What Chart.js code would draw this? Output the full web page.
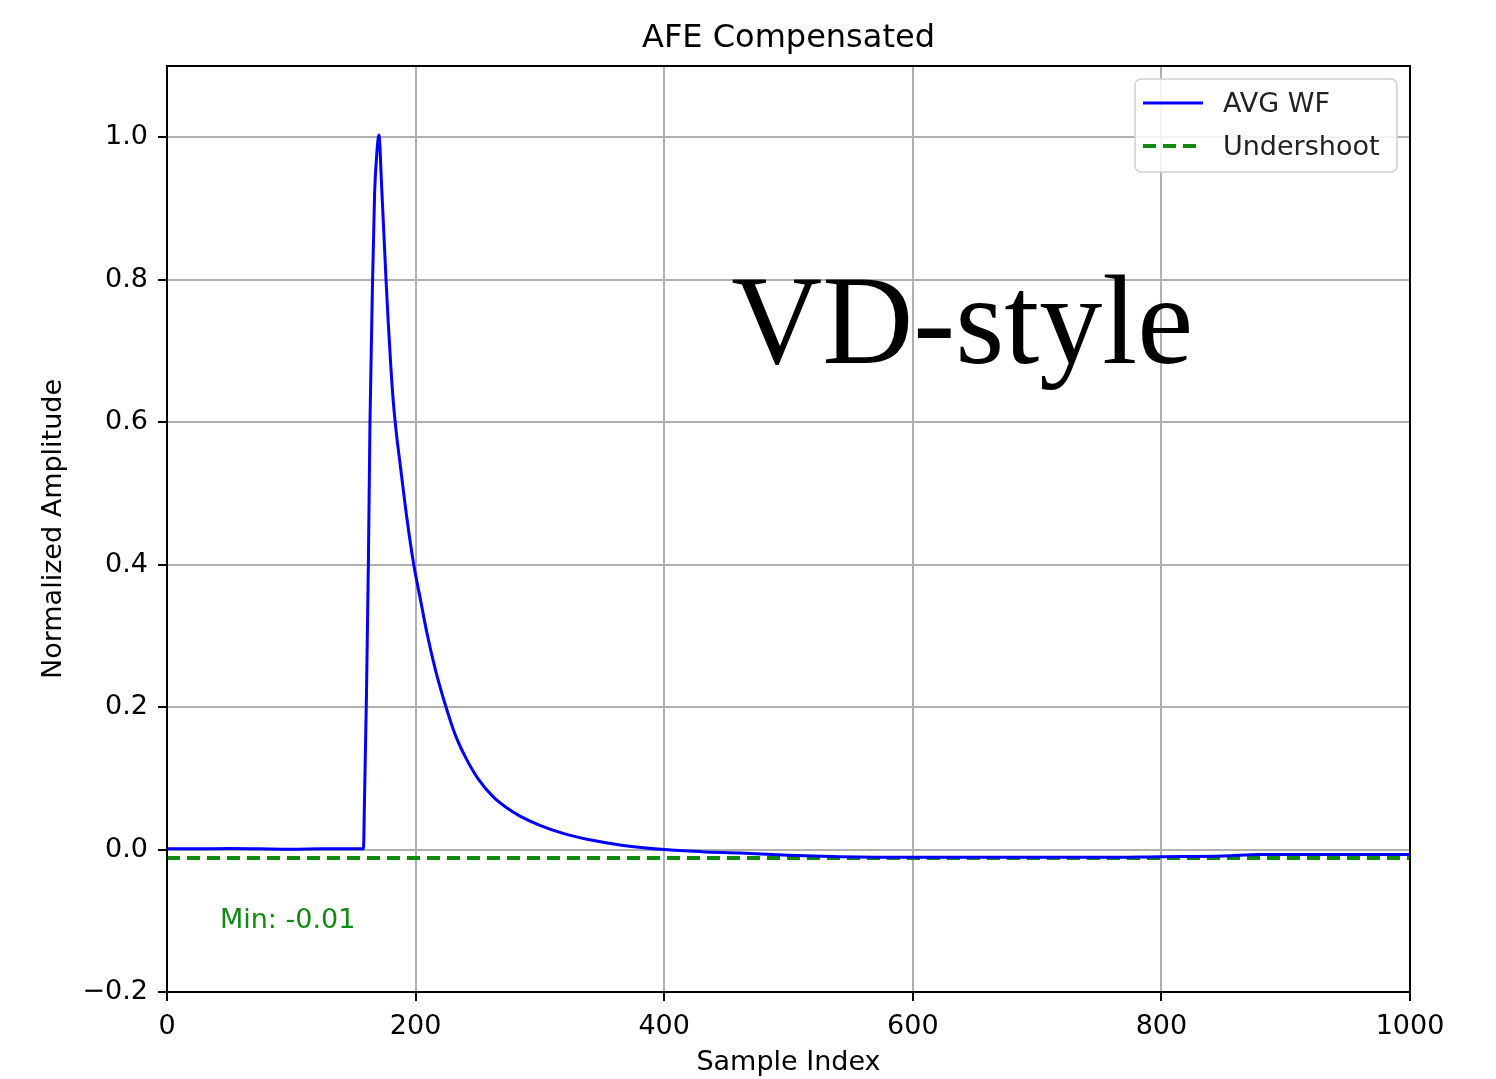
<!DOCTYPE html>
<html>
<head>
<meta charset="utf-8">
<script src="https://cdn.jsdelivr.net/npm/chart.js@4/dist/chart.umd.min.js"></script>
<style>
  body { margin: 0; background: #fff; }
  #wrap { width: 1496px; height: 1079px; position: relative; }
</style>
</head>
<body>
<div id="wrap"><canvas id="afeChart"></canvas></div>
<script>
// sample index / normalized amplitude
const sampleIdx = [0, 25, 50, 75, 100, 125, 150, 158, 159, 160.5, 162, 163.3, 165.4, 167, 168.7, 170.5, 172.7, 176.2, 178, 180, 182, 184.5, 188, 193, 198.5, 204, 209, 216, 223.6, 231.7, 240, 250, 262.5, 273, 284, 300, 320, 338, 367, 400, 430, 461, 500, 541, 600, 650, 700, 750, 800, 850, 880, 920, 960, 1000];
const avgWf = [0.001, 0.001, 0.0015, 0.001, 0.0005, 0.001, 0.001, 0.001, 0.08, 0.22, 0.4, 0.6, 0.8, 0.92, 0.975, 1.003, 0.93, 0.8, 0.74, 0.68, 0.63, 0.585, 0.535, 0.465, 0.4, 0.35, 0.305, 0.252, 0.205, 0.162, 0.13, 0.1, 0.074, 0.059, 0.047, 0.034, 0.022, 0.0145, 0.0058, 0.0, -0.003, -0.005, -0.008, -0.010, -0.011, -0.011, -0.011, -0.011, -0.010, -0.009, -0.007, -0.007, -0.007, -0.007];

const undershootX = [0, 1000];
const undershootY = [-0.012, -0.012];

const xTicks = [0, 200, 400, 600, 800, 1000];
const xTickLabels = ['0', '200', '400', '600', '800', '1000'];
const yTicks = [-0.2, 0.0, 0.2, 0.4, 0.6, 0.8, 1.0];
const yTickLabels = ['\u22120.2', '0.0', '0.2', '0.4', '0.6', '0.8', '1.0'];

const FONT = 'DejaVu Sans';

const extras = {
    id: 'extras',
    afterDraw(chart) {
        const ctx = chart.ctx;
        const area = chart.chartArea;
        const xs = chart.scales.x, ys = chart.scales.y;
        ctx.save();

        // frame
        ctx.strokeStyle = '#000';
        ctx.lineWidth = 2;
        ctx.strokeRect(area.left, area.top, area.right - area.left, area.bottom - area.top);

        // title
        ctx.fillStyle = '#000';
        ctx.font = `32px "${FONT}"`;
        ctx.textAlign = 'center';
        ctx.textBaseline = 'middle';
        ctx.fillText('AFE Compensated', (area.left + area.right) / 2, 39);

        // min annotation
        ctx.fillStyle = '#128a12';
        ctx.font = `27px "${FONT}"`;
        ctx.textAlign = 'left';
        ctx.fillText('Min: -0.01', xs.getPixelForValue(42.6), ys.getPixelForValue(-0.1));

        // big overlay text
        ctx.fillStyle = '#000';
        ctx.font = '126px "Liberation Serif"';
        ctx.textBaseline = 'alphabetic';
        ctx.fillText('VD-style', xs.getPixelForValue(454), ys.getPixelForValue(0.683));

        // legend
        const bx = area.right - 275, by = area.top + 13, bw = 262, bh = 93;
        ctx.beginPath();
        ctx.roundRect(bx, by, bw, bh, 6);
        ctx.fillStyle = 'rgba(255,255,255,0.85)';
        ctx.fill();
        ctx.strokeStyle = '#d0d0d0';
        ctx.lineWidth = 1.5;
        ctx.stroke();
        chart.data.datasets.forEach((ds, i) => {
            const ly = by + 24 + i * 43;
            ctx.beginPath();
            ctx.setLineDash(ds.borderDash || []);
            ctx.strokeStyle = ds.borderColor;
            ctx.lineWidth = ds.borderWidth;
            ctx.moveTo(bx + 8, ly);
            ctx.lineTo(bx + 68, ly);
            ctx.stroke();
            ctx.setLineDash([]);
            ctx.fillStyle = '#222';
            ctx.font = `27px "${FONT}"`;
            ctx.textBaseline = 'middle';
            ctx.fillText(ds.label, bx + 88, ly + 2);
        });
        ctx.restore();
    }
};

new Chart(document.getElementById('afeChart'), {
    type: 'line',
    data: {
        datasets: [{
            label: 'AVG WF',
            data: sampleIdx.map((x, i) => ({ x: x, y: avgWf[i] })),
            borderColor: '#0000ff',
            borderWidth: 3,
            pointRadius: 0,
            cubicInterpolationMode: 'monotone'
        }, {
            label: 'Undershoot',
            data: undershootX.map((x, i) => ({ x: x, y: undershootY[i] })),
            borderColor: '#128a12',
            borderWidth: 4,
            borderDash: [13, 7],
            pointRadius: 0
        }]
    },
    options: {
        responsive: true,
        maintainAspectRatio: false,
        animation: false,
        layout: { padding: { top: 66, right: 86, left: 0, bottom: 0 } },
        plugins: {
            legend: { display: false },
            tooltip: { enabled: false }
        },
        scales: {
            x: {
                type: 'linear',
                min: 0,
                max: 1000,
                afterBuildTicks: s => { s.ticks = xTicks.map(v => ({ value: v })); },
                afterFit: s => { s.height = 87; },
                grid: { color: '#b0b0b0', lineWidth: 2, tickLength: 9, tickColor: '#000', tickWidth: 2 },
                border: { display: false },
                ticks: {
                    color: '#000',
                    font: { family: FONT, size: 27 },
                    padding: 10,
                    maxRotation: 0,
                    callback: (v, i) => xTickLabels[i]
                },
                title: { display: true, text: 'Sample Index', color: '#000', font: { family: FONT, size: 27 }, padding: { top: 0, bottom: 0 } }
            },
            y: {
                type: 'linear',
                min: -0.2,
                max: 1.1,
                afterBuildTicks: s => { s.ticks = yTicks.map(v => ({ value: v })); },
                afterFit: s => { s.width = 167; },
                grid: { color: '#b0b0b0', lineWidth: 2, tickLength: 9, tickColor: '#000', tickWidth: 2 },
                border: { display: false },
                ticks: {
                    color: '#000',
                    font: { family: FONT, size: 27 },
                    padding: 10,
                    callback: (v, i) => yTickLabels[i]
                },
                title: { display: true, text: 'Normalized Amplitude', color: '#000', font: { family: FONT, size: 27 }, padding: { top: 38, bottom: 0 } }
            }
        }
    },
    plugins: [extras]
});
</script>
</body>
</html>
